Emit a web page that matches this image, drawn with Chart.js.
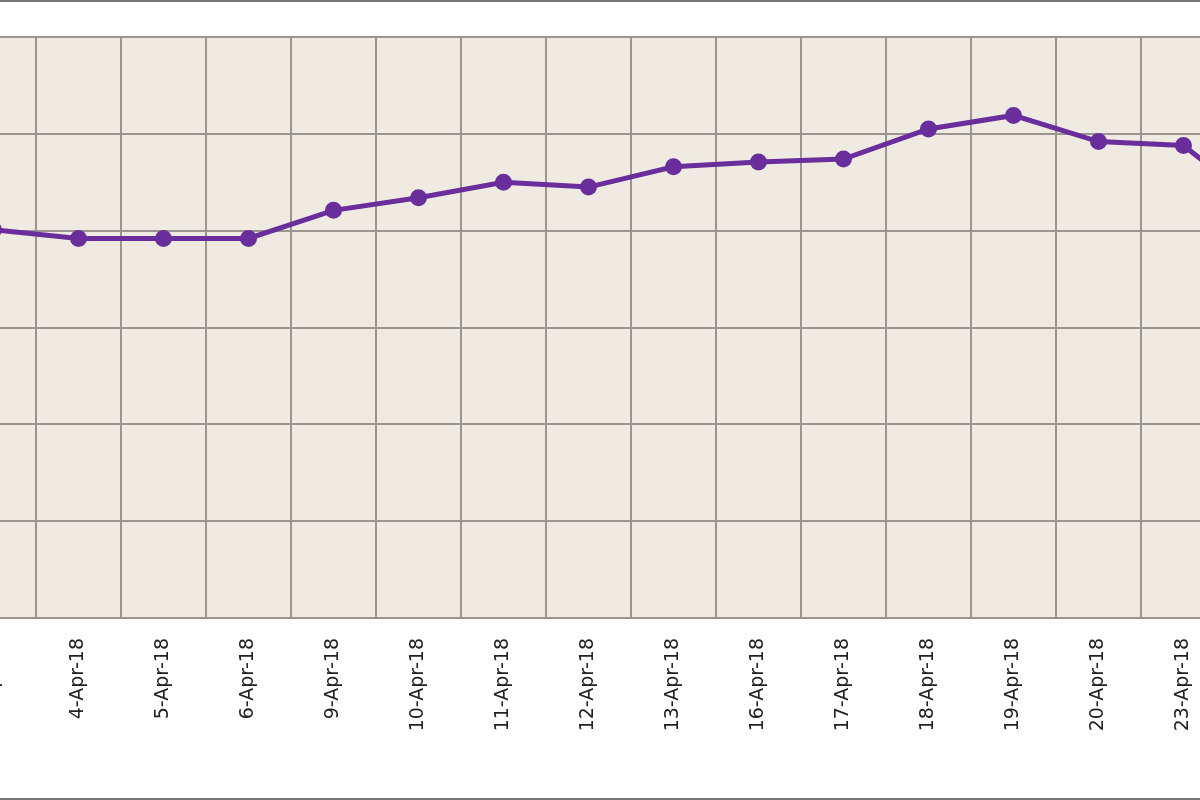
<!DOCTYPE html>
<html lang="en">
<head>
    <meta charset="UTF-8" />
    <title>Daily price, April 2018</title>
    <script src="https://cdn.jsdelivr.net/npm/chart.js"></script>
    <style>
        html, body { margin: 0; padding: 0; background: #fff; overflow: hidden; }
        .frame { position: relative; width: 1200px; height: 800px; overflow: hidden;
                 border-top: 2px solid #777; border-bottom: 2px solid #777; box-sizing: border-box; }
        .wrap { position: absolute; left: -60px; top: -2px; width: 1382px; height: 800px; }
    </style>
</head>
<body>
<div class="frame">
    <div class="wrap"><canvas id="priceChart"></canvas></div>
</div>

<script>
    // Dates and values
    const dates = ["3-Apr-18", "4-Apr-18", "5-Apr-18", "6-Apr-18", "9-Apr-18", "10-Apr-18",
        "11-Apr-18", "12-Apr-18", "13-Apr-18", "16-Apr-18", "17-Apr-18", "18-Apr-18",
        "19-Apr-18", "20-Apr-18", "23-Apr-18", "24-Apr-18"];
    const prices = [40.1, 39.2, 39.2, 39.2, 42.1, 43.4, 45.0, 44.5, 46.6, 47.1, 47.4,
        50.5, 51.9, 49.2, 48.8, 41.9];

    // plot background
    const plotBg = {
        id: "plotBg",
        beforeDraw(chart) {
            const { ctx, chartArea: a } = chart;
            ctx.save();
            ctx.fillStyle = "#efebe2";
            ctx.fillRect(a.left, a.top, a.right - a.left, a.bottom - a.top);
            ctx.restore();
        }
    };

    new Chart(document.getElementById("priceChart"), {
        type: "line",
        data: {
            labels: dates,
            datasets: [{
                data: prices,
                borderColor: "#6a2d9c",
                backgroundColor: "#6a2d9c",
                borderWidth: 5,
                pointRadius: 6,
                tension: 0
            }]
        },
        options: {
            responsive: true,
            maintainAspectRatio: false,
            animation: false,
            layout: { padding: { top: 37, left: 0, right: 0, bottom: 0 } },
            plugins: { legend: { display: false }, tooltip: { enabled: false } },
            scales: {
                x: {
                    offset: true,
                    grid: { offset: true, color: "#9a968f", lineWidth: 2, drawTicks: false },
                    border: { color: "#9a968f", width: 2 },
                    ticks: {
                        minRotation: 90, maxRotation: 90, padding: 20,
                        color: "#222", font: { family: "DejaVu Sans", size: 19 }
                    },
                    afterFit(scale) { scale.height = 182; }
                },
                y: {
                    min: 0, max: 60,
                    ticks: { display: false, stepSize: 10 },
                    grid: { color: "#9a968f", lineWidth: 2, drawTicks: false },
                    border: { display: false },
                    afterFit(scale) { scale.width = 0; }
                }
            }
        },
        plugins: [plotBg]
    });
</script>
</body>
</html>
